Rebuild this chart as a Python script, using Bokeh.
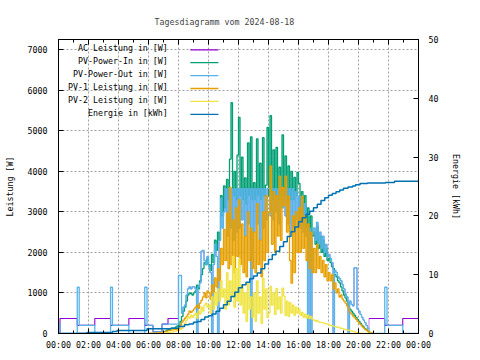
from bokeh.plotting import figure
from bokeh.models import Range1d, LinearAxis, FixedTicker, Label
from bokeh.embed import file_html
from bokeh.resources import INLINE

# ---------------- text ----------------
title_text = "Tagesdiagramm vom 2024-08-18"
y_label = "Leistung [W]"
y2_label = "Energie [kWh]"
series_names = ["AC Leistung in [W]", "PV-Power-In in [W]", "PV-Power-Out in [W]",
                "PV-1 Leistung in [W]", "PV-2 Leistung in [W]", "Energie in [kWh]"]
series_colors = ["#9400d3", "#009e73", "#56b4e9", "#e69f00", "#f0e442", "#0072b2"]

x_ticks = [0, 2, 4, 6, 8, 10, 12, 14, 16, 18, 20, 22, 24]
x_tick_labels = ["00:00", "02:00", "04:00", "06:00", "08:00", "10:00", "12:00",
                 "14:00", "16:00", "18:00", "20:00", "22:00", "00:00"]
x_minor = [1, 3, 5, 7, 9, 11, 13, 15, 17, 19, 21, 23]
y_ticks = [0, 1000, 2000, 3000, 4000, 5000, 6000, 7000]
e_ticks = [0, 10, 20, 30, 40, 50]

# ---------------- data (hours of day, step values) ----------------
# night part of PV-Power-Out / AC (irregular breakpoints)
out_am_t = [0.0, 0.1, 1.25, 1.38, 2.42, 3.47, 3.6, 4.69, 5.75, 5.9]
out_am_v = [250, 0, 1140, 200, 0, 1140, 200, 0, 1140, 200]
ac_am_t = [0.0, 0.1, 1.25, 2.42, 3.47, 4.69, 5.75]
ac_am_v = [0, 370, 200, 370, 200, 370, 200]

# daytime samples every 6 minutes from 06:00 to 20:54 (one row per hour)
day_start = 6.0
day_step = 0.1

pv_in = [
    0, 0, 0, 0, 0, 0, 0, 0, 10, 30,
    50, 60, 80, 100, 110, 130, 130, 140, 160, 190,
    200, 300, 420, 550, 650, 800, 950, 1000, 980, 950,
    1000, 1050, 1190, 1100, 1300, 1450, 1600, 1750, 1700, 1850,
    1700, 1550, 1950, 1750, 2300, 2050, 2500, 2300, 3400, 2900,
    3640, 3100, 3800, 3300, 4300, 5690, 3400, 4000, 3300, 4400,
    5330, 3400, 4350, 3300, 3840, 3200, 4700, 3400, 4850, 3300,
    3720, 3300, 4800, 3400, 4200, 3300, 4830, 3400, 3660, 5080,
    3400, 5370, 3300, 4530, 3400, 4590, 3300, 4100, 3400, 4900,
    3400, 4380, 3300, 4130, 3300, 4000, 3300, 3850, 3400, 3970,
    3700, 2800, 3500, 2700, 3400, 2600, 3100, 2500, 2900, 2400,
    2500, 2200, 2650, 2100, 2400, 2000, 2300, 1900, 2100, 1800,
    1850, 1750, 1650, 1600, 1450, 1400, 1300, 1250, 1150, 1050,
    950, 880, 800, 700, 600, 550, 500, 450, 400, 350,
    300, 250, 200, 160, 120, 90, 60, 30, 10, 0,
]

pv_out = [
    200, 200, 200, 40, 40, 40, 40, 40, 40, 230,
    230, 230, 230, 230, 230, 230, 230, 230, 230, 230,
    1430, 1430, 500, 650, 700, 950, 1100, 1150, 1100, 1150,
    1150, 1100, 0, 1150, 1250, 2030, 2050, 1800, 1700, 1900,
    1650, 1500, 0, 1700, 2200, 1900, 0, 2300, 3340, 2600,
    3000, 3570, 2400, 3570, 2600, 3570, 2300, 3570, 2500, 3570,
    2600, 3570, 2800, 3570, 2400, 3570, 2700, 3570, 0, 3570,
    2500, 3570, 2700, 3570, 2300, 3570, 2600, 3570, 2800, 3570,
    3570, 2900, 3570, 2800, 3570, 3000, 3570, 2700, 3570, 3100,
    3570, 2900, 3570, 2700, 3570, 2500, 3570, 2600, 3500, 2800,
    3390, 2600, 3300, 2500, 3200, 2400, 0, 2600, 0, 2450,
    2600, 2300, 2740, 2200, 2500, 2100, 2400, 2000, 2200, 1900,
    1950, 1850, 1750, 0, 1550, 1500, 1400, 1350, 1300, 1200,
    1100, 970, 900, 0, 800, 720, 680, 1620, 1620, 600,
    550, 470, 400, 330, 270, 200, 130, 0, 0, 0,
]

pv1 = [
    0, 0, 0, 0, 0, 10, 20, 20, 30, 30,
    40, 50, 60, 70, 80, 90, 90, 100, 100, 110,
    120, 200, 280, 330, 380, 420, 480, 550, 520, 560,
    600, 650, 700, 620, 750, 820, 900, 1000, 880, 1050,
    1000, 850, 1200, 1000, 1370, 1150, 1600, 1300, 2100, 1700,
    2570, 1800, 2970, 1600, 3600, 1700, 2800, 1500, 3100, 1900,
    3300, 1700, 2700, 1500, 2400, 1400, 3000, 1800, 2600, 1600,
    2500, 1500, 3200, 1700, 2300, 1400, 3000, 1800, 3400, 2000,
    3000, 4130, 2200, 3500, 2000, 3400, 2400, 3880, 2300, 3600,
    3150, 3880, 2500, 3390, 1800, 1240, 2900, 1500, 3000, 2000,
    3100, 2000, 3390, 2100, 2900, 1800, 2700, 1600, 2500, 1500,
    2100, 1500, 2200, 1600, 1900, 1500, 1800, 1400, 1700, 1300,
    1500, 1300, 1450, 1100, 1250, 1000, 1100, 900, 950, 850,
    800, 750, 680, 600, 520, 480, 430, 390, 350, 300,
    260, 220, 180, 140, 110, 80, 50, 30, 20, 10,
]

pv2 = [
    0, 0, 0, 0, 0, 0, 0, 0, 0, 0,
    0, 10, 20, 20, 30, 40, 40, 50, 60, 70,
    80, 100, 130, 180, 250, 330, 420, 380, 450, 400,
    450, 500, 380, 550, 480, 650, 550, 700, 750, 650,
    700, 500, 900, 600, 1000, 700, 1100, 800, 1300, 900,
    1100, 600, 1500, 700, 1300, 900, 1900, 650, 1600, 800,
    1830, 700, 1200, 500, 1000, 300, 1240, 600, 900, 400,
    1000, 300, 1300, 500, 900, 250, 1360, 600, 1100, 400,
    500, 1160, 700, 1000, 470, 1110, 600, 900, 500, 1120,
    920, 450, 800, 420, 760, 500, 700, 450, 650, 500,
    600, 450, 520, 400, 480, 380, 450, 370, 420, 350,
    330, 300, 320, 290, 280, 270, 260, 250, 240, 230,
    210, 200, 190, 180, 170, 160, 150, 140, 130, 120,
    110, 100, 90, 80, 70, 60, 50, 40, 30, 20,
    10, 10, 0, 0, 0, 0, 0, 0, 0, 0,
]

# AC power: 06:00-07:54 read separately, afterwards it runs under PV-Power-Out
ac_morning = [
    200, 200, 200, 40, 40, 40, 40, 40, 40, 230,
    230, 230, 230, 370, 370, 370, 370, 370, 370, 370,
]
ac_day_end = 147  # AC follows PV-Out until 20:36

# evening part
out_pm_t = [21.0, 21.75, 21.9, 22.95, 24.0]
out_pm_v = [0, 1140, 200, 0, 0]
ac_pm_t = [20.7, 21.75, 22.95, 24.0]
ac_pm_v = [370, 200, 370, 370]

# daily energy (kWh, right axis)
energy_t = [0.0, 1.3, 1.9, 3.6, 3.9, 5.9, 7.5, 8.0, 8.4, 8.7, 9.0, 9.25, 9.5, 9.75,
            10.0, 10.25, 10.5, 10.75, 11.0, 11.25, 11.5, 11.75, 12.0, 12.25, 12.5,
            12.75, 13.0, 13.25, 13.5, 13.75, 14.0, 14.25, 14.5, 14.75, 15.0, 15.25,
            15.5, 15.75, 16.0, 16.25, 16.5, 16.75, 17.0, 17.25, 17.5, 17.75, 18.0,
            18.25, 18.5, 18.75, 19.0, 19.3, 19.6, 19.8, 20.1, 20.6, 21.8, 22.4, 24.0]
energy_v = [0.0, 0.05, 0.17, 0.34, 0.5, 0.8, 0.9, 1.2, 1.5, 1.6, 1.9, 2.05, 2.4, 2.8,
            3.0, 3.3, 3.8, 4.3, 4.9, 5.5, 6.3, 7.0, 7.8, 8.3, 8.7,
            9.3, 9.8, 10.3, 11.0, 11.8, 12.6, 13.4, 14.0, 14.8, 15.6, 16.5,
            17.3, 18.1, 19.0, 19.7, 20.3, 20.8, 21.4, 22.0, 22.6, 23.1, 23.5,
            23.8, 24.1, 24.4, 24.7, 24.9, 25.1, 25.3, 25.5, 25.6, 25.7, 25.9, 25.9]

# ---------------- assemble step series ----------------
day_t = [round(day_start + day_step * i, 2) for i in range(len(pv_in))]
ac_day = ac_morning + pv_out[len(ac_morning):ac_day_end]

ac_t = ac_am_t + day_t[:ac_day_end] + ac_pm_t
ac_v = ac_am_v + ac_day + ac_pm_v
out_t = out_am_t + day_t + out_pm_t
out_v = out_am_v + pv_out + out_pm_v

# AC is drawn in three pieces: visible night parts and a thin daytime part that
# runs hidden below PV-Power-Out
i_day0 = len(ac_am_t) + len(ac_morning)       # 08:00
i_day1 = len(ac_am_t) + ac_day_end            # 20:42

FONT = "DejaVu Sans Mono"
FS = "8.3px"

p = figure(width=480, height=360, output_backend="svg", toolbar_location=None,
           x_range=Range1d(0, 24), y_range=Range1d(0, 7250),
           min_border_left=58, min_border_right=62, min_border_top=39,
           min_border_bottom=27, title=title_text)
p.extra_y_ranges = {"energy": Range1d(0, 50)}
p.background_fill_color = "white"
p.border_fill_color = "white"
p.outline_line_color = "black"
p.outline_line_width = 1

p.title.text_font = FONT
p.title.text_font_size = FS
p.title.text_font_style = "normal"
p.title.align = "left"
p.title.offset = 96
p.title.standoff = 26

# draw order as in the original: AC, In, Out, PV-1, PV-2, Energy
lw = 1.3
p.step(ac_t[:i_day0 + 1], ac_v[:i_day0 + 1], mode="after",
       line_color=series_colors[0], line_width=1.1)
p.step(ac_t[i_day0:i_day1 + 1], ac_v[i_day0:i_day1 + 1], mode="after",
       line_color=series_colors[0], line_width=0.5)
p.step(ac_t[i_day1:], ac_v[i_day1:], mode="after",
       line_color=series_colors[0], line_width=1.1)
p.step(day_t, pv_in, mode="after", line_color=series_colors[1], line_width=lw)
p.step(out_t, out_v, mode="after", line_color=series_colors[2], line_width=lw)
p.step(day_t, pv1, mode="after", line_color=series_colors[3], line_width=lw)
p.step(day_t, pv2, mode="after", line_color=series_colors[4], line_width=lw)
p.step(energy_t, energy_v, mode="after", line_color=series_colors[5], line_width=1.5,
       y_range_name="energy")

# ---------------- axes ----------------
def style_axis(ax):
    ax.axis_line_color = "black"
    ax.major_tick_line_color = "black"
    ax.minor_tick_line_color = "black"
    ax.major_tick_in = 5
    ax.major_tick_out = 0
    ax.minor_tick_in = 3
    ax.minor_tick_out = 0
    ax.major_label_text_font = FONT
    ax.major_label_text_font_size = FS
    ax.major_label_text_color = "black"
    ax.axis_label_text_font = FONT
    ax.axis_label_text_font_size = FS
    ax.axis_label_text_font_style = "normal"
    ax.axis_label_text_color = "black"

xa = p.xaxis[0]
xa.ticker = FixedTicker(ticks=x_ticks, minor_ticks=x_minor)
xa.major_label_overrides = {t: lab for t, lab in zip(x_ticks, x_tick_labels)}
style_axis(xa)
xa.major_label_standoff = 6

ya = p.yaxis[0]
ya.ticker = FixedTicker(ticks=y_ticks, minor_ticks=[])
ya.axis_label = y_label
style_axis(ya)
ya.major_label_standoff = 11
ya.axis_label_standoff = 10

# mirrored tick marks along the top border (no labels)
top = LinearAxis(ticker=FixedTicker(ticks=x_ticks, minor_ticks=x_minor))
style_axis(top)
top.major_label_overrides = {t: "" for t in x_ticks}
top.major_label_standoff = 0
p.add_layout(top, "above")

ra = LinearAxis(y_range_name="energy", ticker=FixedTicker(ticks=e_ticks, minor_ticks=[]),
                axis_label=y2_label)
style_axis(ra)
ra.major_label_standoff = 10
ra.axis_label_standoff = 10
p.add_layout(ra, "right")

for g in (p.xgrid[0], p.ygrid[0]):
    g.grid_line_color = "#a0a0a0"
    g.grid_line_dash = "2 2"
    g.grid_line_width = 1

# ---------------- key (gnuplot style: text right, sample line) ----------------
key_text_x = 7.29      # hours
key_line_x0 = 8.79
key_line_x1 = 10.66
key_line_top = 6996    # W
key_row = 318          # W per row
key_text_shift = 40    # text slightly above the sample line

ys = [key_line_top - i * key_row for i in range(len(series_names))]
p.segment(x0=[key_line_x0] * len(ys), x1=[key_line_x1] * len(ys), y0=ys, y1=ys,
          line_color=series_colors, line_width=1.3)
for name, yy in zip(series_names, ys):
    p.add_layout(Label(x=key_text_x, y=yy + key_text_shift, text=name, text_align="right",
                       text_baseline="middle", text_font=FONT, text_font_size=FS,
                       text_color="black"))

open("out.html", "w").write(file_html(p, INLINE))
